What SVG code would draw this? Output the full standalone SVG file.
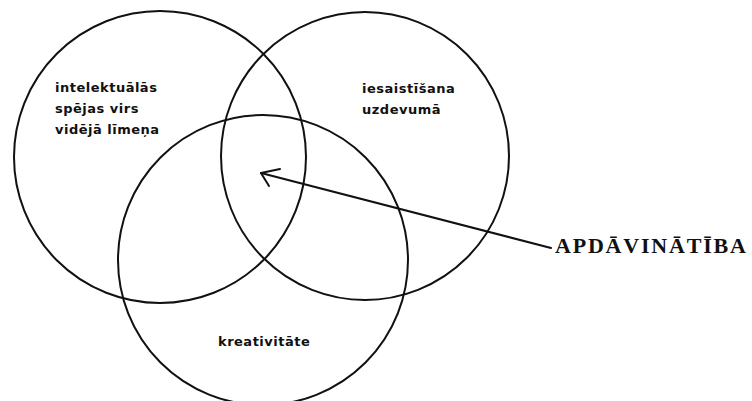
<svg xmlns="http://www.w3.org/2000/svg" width="752" height="401" viewBox="0 0 752 401">
<style>
.c{fill:none;stroke:#111;stroke-width:2}
.t{font-family:"DejaVu Sans",sans-serif;font-weight:bold;font-size:13px;fill:#111;letter-spacing:0.5px}
.big{font-family:"Liberation Serif",serif;font-weight:bold;font-size:22px;fill:#111;letter-spacing:1.8px}
.ln{fill:none;stroke:#111;stroke-width:2;stroke-linecap:round;stroke-linejoin:round}
</style>
<rect width="752" height="401" fill="#fff"/>
<g id="intelektualas">
<circle class="c" cx="160" cy="157" r="146"/>
<text class="t" x="55" y="92">intelektuālās</text>
<text class="t" x="55" y="113">spējas virs</text>
<text class="t" x="55" y="134">vidējā līmeņa</text>
</g>
<g id="iesaistisana">
<circle class="c" cx="365" cy="156" r="144"/>
<text class="t" x="362" y="93">iesaistīšana</text>
<text class="t" x="362" y="114">uzdevumā</text>
</g>
<g id="kreativitate">
<circle class="c" cx="263" cy="260" r="145"/>
<text class="t" x="218" y="346">kreativitāte</text>
</g>
<g id="apdavinatiba">
<text class="big" x="555" y="253">APDĀVINĀTĪBA</text>
</g>
<g id="connectors">
<path class="ln" d="M551,248 L261,173"/>
<path class="ln" d="M280,169 L261,173 L269,186"/>
</g>
</svg>
